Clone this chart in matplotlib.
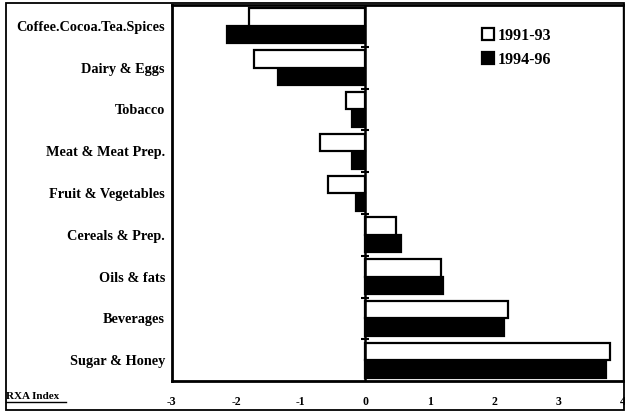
import matplotlib.pyplot as plt
import matplotlib.patches as mpatches
from matplotlib.lines import Line2D
import numpy as np

categories = ['Coffee.Cocoa.Tea.Spices', 'Dairy & Eggs', 'Tobacco', 'Meat & Meat Prep.',
              'Fruit & Vegetables', 'Cereals & Prep.', 'Oils & fats', 'Beverages', 'Sugar & Honey']
rxa_1991_93 = [-1.80, -1.73, -0.30, -0.70, -0.58, 0.48, 1.17, 2.22, 3.80]
rxa_1994_96 = [-2.15, -1.35, -0.20, -0.20, -0.15, 0.55, 1.20, 2.15, 3.73]
series_labels = ['1991-93', '1994-96']
x_ticks = [-3, -2, -1, 0, 1, 2, 3, 4]

plt.rcParams['font.family'] = ['Liberation Serif', 'DejaVu Serif']
plt.rcParams['font.weight'] = 'bold'
plt.rcParams['axes.unicode_minus'] = False

fig = plt.figure(figsize=(6.25, 4.13), dpi=100)
ax = fig.add_axes([0.275, 0.077, 0.722, 0.911])

y = np.arange(len(categories))
h = 0.42
ax.barh(y - h / 2, rxa_1991_93, height=h, color='white', edgecolor='black', linewidth=1.6,
        label=series_labels[0], zorder=3)
ax.barh(y + h / 2, rxa_1994_96, height=h, color='black', edgecolor='black', linewidth=1.6,
        label=series_labels[1], zorder=2)

ax.axvline(0, color='black', linewidth=1.8, zorder=4)
# small category-separator ticks on the zero line
ax.plot(np.zeros(len(categories) - 1), y[:-1] + 0.5, linestyle='none', marker='_',
        markersize=6, markeredgewidth=1.5, color='black', zorder=4)

ax.set_xlim(-3, 4)
ax.set_ylim(len(categories) - 0.5, -0.5)
ax.set_xticks(x_ticks)
ax.set_xticklabels([str(t) for t in x_ticks], fontsize=8.5, fontweight='bold')
ax.set_yticks(y)
ax.set_yticklabels(categories, fontsize=10.3, fontweight='bold')
ax.tick_params(axis='both', length=0)
ax.tick_params(axis='x', pad=11)
ax.tick_params(axis='y', pad=5)

for side in ['left', 'bottom', 'top']:
    ax.spines[side].set_linewidth(2)
ax.spines['right'].set_linewidth(1)

ax.legend(loc='upper left', bbox_to_anchor=(0.655, 0.978), frameon=False,
          handlelength=0.75, handleheight=0.75, handletextpad=0.25, labelspacing=0.5,
          prop={'weight': 'bold', 'size': 11.5})

# outer frame of the figure
fig.add_artist(mpatches.Rectangle((0.01, 0.008), 0.988, 0.984, transform=fig.transFigure,
                                  fill=False, edgecolor='black', linewidth=1.3))

fig.text(0.01, 0.033, 'RXA Index', fontsize=8, fontweight='bold', ha='left', va='baseline')
fig.add_artist(Line2D([0.01, 0.105], [0.027, 0.027], transform=fig.transFigure,
                      color='black', linewidth=1))

fig.savefig('out.png', dpi=100)
